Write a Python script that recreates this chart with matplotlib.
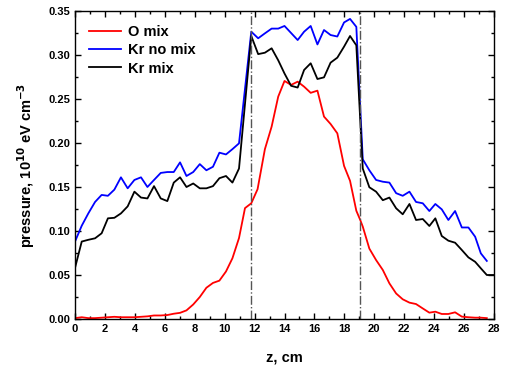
import numpy as np
import matplotlib
matplotlib.use("Agg")
import matplotlib.pyplot as plt
from matplotlib.ticker import MultipleLocator

plt.rcParams['font.family'] = ['Liberation Sans', 'DejaVu Sans']
plt.rcParams['font.weight'] = 'bold'

# --- data ---
z_kr = [0, 0.45, 0.89, 1.34, 1.78, 2.2, 2.63, 3.07, 3.52, 3.97, 4.41, 4.84, 5.28, 5.73,
        6.17, 6.6, 7.02, 7.45, 7.9, 8.34, 8.78, 9.22, 9.65, 10.09, 10.52, 10.96,
        11.78, 12.24, 12.69, 13.14, 13.58, 14.0, 14.44, 14.88, 15.31, 15.75, 16.2,
        16.64, 17.08, 17.53, 17.98, 18.38, 18.8, 19.23, 19.67, 20.12, 20.57, 21.01,
        21.46, 21.9, 22.35, 22.79, 23.24, 23.68, 24.08, 24.51, 24.95, 25.4, 25.85,
        26.29, 26.74, 27.12, 27.52, 27.96]

kr_no_mix = [0.088, 0.106, 0.120, 0.133, 0.141, 0.140, 0.147, 0.161, 0.1485, 0.158,
             0.161, 0.150, 0.158, 0.166, 0.167, 0.167, 0.178, 0.1625, 0.167, 0.176,
             0.169, 0.173, 0.189, 0.187, 0.193, 0.1996,
             0.3265, 0.319, 0.3246, 0.330, 0.330, 0.333, 0.325, 0.317, 0.3265, 0.333,
             0.312, 0.3284, 0.3227, 0.321, 0.337, 0.341, 0.332,
             0.1815, 0.169, 0.158, 0.156, 0.155, 0.143, 0.140, 0.1447, 0.133, 0.1315,
             0.1227, 0.1307, 0.1246, 0.1125, 0.1227, 0.104, 0.104, 0.0935, 0.0746,
             0.066, np.nan]

kr_mix = [0.058, 0.088, 0.090, 0.0917, 0.0974, 0.1144, 0.115, 0.120, 0.128, 0.1447,
          0.138, 0.137, 0.151, 0.137, 0.134, 0.155, 0.161, 0.150, 0.154, 0.1485,
          0.1485, 0.151, 0.160, 0.1625, 0.155, 0.171,
          0.3216, 0.301, 0.3026, 0.3076, 0.294, 0.279, 0.265, 0.263, 0.283, 0.2906,
          0.2727, 0.2746, 0.2913, 0.297, 0.3095, 0.3216, 0.311,
          0.171, 0.1497, 0.1447, 0.135, 0.138, 0.1258, 0.119, 0.1307, 0.1125, 0.1136,
          0.1057, 0.1144, 0.0943, 0.089, 0.0867, 0.0784, 0.070, 0.065, 0.0576,
          0.050, 0.050]

z_o = [0, 0.45, 0.89, 1.34, 1.78, 2.2, 2.63, 3.07, 3.52, 3.97, 4.41, 4.84, 5.28, 5.73,
       6.17, 6.6, 7.02, 7.45, 7.9, 8.34, 8.78, 9.22, 9.65, 10.09, 10.52, 10.96, 11.36,
       11.78, 12.2, 12.69, 13.14, 13.58, 14.0, 14.44, 14.88, 15.31, 15.75, 16.2, 16.64,
       17.08, 17.53, 17.98, 18.38, 18.8, 19.05, 19.23, 19.67, 20.12, 20.57, 21.01,
       21.46, 21.9, 22.35, 22.79, 23.24, 23.68, 24.08, 24.51, 24.95, 25.4, 25.85,
       26.29, 26.74, 27.12, 27.52]

o_mix = [0.001, 0.002, 0.001, 0.001, 0.0015, 0.002, 0.0025, 0.002, 0.002, 0.002,
         0.0025, 0.003, 0.004, 0.004, 0.0045, 0.006, 0.007, 0.0098, 0.0165, 0.025,
         0.0355, 0.041, 0.0436, 0.054, 0.069, 0.092, 0.126,
         0.1315, 0.1475, 0.193, 0.2186, 0.2527, 0.2705, 0.266, 0.2697, 0.264, 0.257,
         0.2595, 0.230, 0.2216, 0.211, 0.174, 0.157, 0.123, 0.113, 0.105, 0.080,
         0.067, 0.0557, 0.0405, 0.029, 0.0224, 0.0186, 0.017, 0.012, 0.0072, 0.0083,
         0.0057, 0.0057, 0.0076, 0.0027, 0.002, 0.0015, 0.0015, 0.001]

vlines_z = [11.76, 19.05]

# --- figure ---
fig = plt.figure(figsize=(5.07, 3.70), dpi=100)
ax = fig.add_axes([75/507, 1-319/370, (494-75)/507, (319-11)/370])

ax.plot(z_o, o_mix, color='#ff0000', lw=1.3, label='O mix')
ax.plot(z_kr, kr_no_mix, color='#0000ff', lw=1.3, label='Kr no mix')
ax.plot(z_kr, kr_mix, color='#000000', lw=1.3, label='Kr mix')
for zv in vlines_z:
    ax.axvline(zv, color='#555555', lw=1.0, ls='-.')

ax.set_xlim(0, 28)
ax.set_ylim(0, 0.35)
ax.xaxis.set_major_locator(MultipleLocator(2))
ax.xaxis.set_minor_locator(MultipleLocator(1))
ax.yaxis.set_major_locator(MultipleLocator(0.05))
ax.yaxis.set_minor_locator(MultipleLocator(0.025))
ax.yaxis.set_major_formatter(matplotlib.ticker.FormatStrFormatter('%.2f'))
ax.tick_params(which='both', direction='in', top=True, right=True, labelsize=8, width=1.0)
ax.tick_params(which='major', length=4)
ax.tick_params(which='minor', length=2.5)
for lab in ax.get_xticklabels() + ax.get_yticklabels():
    lab.set_fontweight('bold')
for sp in ax.spines.values():
    sp.set_linewidth(1.0)

ax.set_xlabel('z, cm', fontsize=10.5, fontweight='bold', labelpad=12)
ax.set_ylabel(r'pressure, 10$^{\mathbf{10}}$ eV cm$^{\mathbf{-3}}$', fontsize=10.5,
              fontweight='bold', labelpad=8)

leg = ax.legend(loc='upper left', frameon=False, fontsize=10.5, handlelength=2.2,
                handletextpad=0.5, labelspacing=0.3, borderaxespad=0.55)
for t in leg.get_texts():
    t.set_fontweight('bold')

fig.savefig('out.png', dpi=100)
